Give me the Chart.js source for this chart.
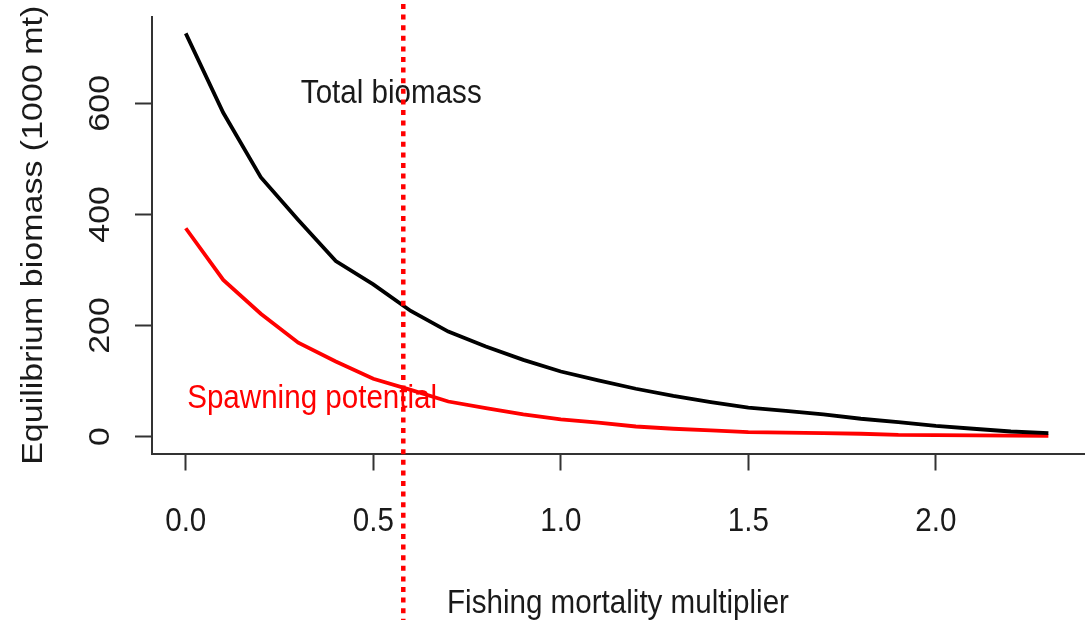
<!DOCTYPE html>
<html>
<head>
<meta charset="utf-8">
<script src="https://cdn.jsdelivr.net/npm/chart.js@4/dist/chart.umd.min.js"></script>
<style>
  html, body { margin: 0; padding: 0; background: #fff; }
  #wrap { width: 1090px; height: 620px; }
</style>
</head>
<body>
<div id="wrap"><canvas id="chart" width="1090" height="620"></canvas></div>
<script>
// fishing mortality multiplier
const fMult = [0.0, 0.1, 0.2, 0.3, 0.4, 0.5, 0.6, 0.7, 0.8, 0.9, 1.0, 1.1,
               1.2, 1.3, 1.4, 1.5, 1.6, 1.7, 1.8, 1.9, 2.0, 2.1, 2.2, 2.3];
// equilibrium biomass (1000 mt)
const totalBiomass = [726, 583, 467, 390, 316, 274, 226, 189, 162, 138, 117, 101,
                      86, 73, 62, 52, 46, 40, 32, 26, 19, 14, 9, 6];
const spawningPotential = [375, 282, 221, 169, 135, 104, 84, 63, 51, 40, 31, 25,
                           18, 14, 11, 8, 7, 6, 5, 3, 2.5, 2, 1.5, 1];
const xTicks = [0, 0.5, 1, 1.5, 2];
const xTickLabels = ['0.0', '0.5', '1.0', '1.5', '2.0'];
const yTicks = [0, 200, 400, 600];
const yTickLabels = ['0', '200', '400', '600'];
const refF = 0.58;

const FONT = '34px "Liberation Sans", Arial, sans-serif';
const SQX = 0.87; // text in the picture is narrow

function pts(ys) {
    return fMult.map((x, i) => ({ x: x, y: ys[i] }));
}

// draws labels, axis titles and the dotted reference line
const rPlot = {
    id: 'rPlot',
    afterDraw(chart) {
        const ctx = chart.ctx;
        const xs = chart.scales.x, ys = chart.scales.y;
        const area = chart.chartArea;

        function hText(s, x, y, color) {
            ctx.save();
            ctx.translate(x, y);
            ctx.scale(SQX, 1);
            ctx.fillStyle = color;
            ctx.font = FONT;
            ctx.textAlign = 'center';
            ctx.textBaseline = 'alphabetic';
            ctx.fillText(s, 0, 0);
            ctx.restore();
        }
        function vText(s, x, y, color) {
            ctx.save();
            ctx.translate(x, y);
            ctx.scale(SQX, 1);
            ctx.rotate(-Math.PI / 2);
            ctx.fillStyle = color;
            ctx.font = FONT;
            ctx.textAlign = 'center';
            ctx.textBaseline = 'alphabetic';
            ctx.fillText(s, 0, 0);
            ctx.restore();
        }

        xTicks.forEach((v, i) => hText(xTickLabels[i], xs.getPixelForValue(v), 530.5, '#1a1a1a'));
        yTicks.forEach((v, i) => vText(yTickLabels[i], 108.5, ys.getPixelForValue(v), '#1a1a1a'));

        hText('Fishing mortality multiplier', (area.left + area.right) / 2, 613, '#1a1a1a');
        vText('Equilibrium biomass (1000 mt)', 41.5, (area.top + area.bottom) / 2, '#1a1a1a');

        hText('Total biomass', xs.getPixelForValue(0.548), ys.getPixelForValue(601), '#1a1a1a');
        hText('Spawning potential', xs.getPixelForValue(0.337), ys.getPixelForValue(51), '#ff0000');

        // vertical dotted line, runs over the whole figure
        const px = xs.getPixelForValue(refF);
        ctx.save();
        ctx.strokeStyle = '#ff0000';
        ctx.lineWidth = 4.5;
        ctx.setLineDash([5, 5.6]);
        ctx.lineDashOffset = 6.6;
        ctx.beginPath();
        ctx.moveTo(px, 0);
        ctx.lineTo(px, chart.height);
        ctx.stroke();
        ctx.restore();
    }
};

const axisStyle = {
    display: true,
    drawOnChartArea: false,
    drawTicks: true,
    tickLength: 17,
    tickWidth: 2,
    tickColor: '#333'
};

new Chart(document.getElementById('chart'), {
    type: 'line',
    data: {
        datasets: [{
            label: 'Total biomass',
            data: pts(totalBiomass),
            borderColor: '#000',
            borderWidth: 3.8,
            pointRadius: 0,
            tension: 0
        }, {
            label: 'Spawning potential',
            data: pts(spawningPotential),
            borderColor: '#ff0000',
            borderWidth: 3.8,
            pointRadius: 0,
            tension: 0
        }]
    },
    options: {
        responsive: false,
        animation: false,
        devicePixelRatio: 1,
        layout: { padding: { left: 135, right: 6, top: 17, bottom: 149.5 } },
        plugins: { legend: { display: false }, tooltip: { enabled: false } },
        scales: {
            x: {
                type: 'linear',
                min: -0.09,
                max: 2.395,
                afterBuildTicks: s => { s.ticks = xTicks.map(v => ({ value: v })); },
                ticks: { display: false },
                grid: axisStyle,
                border: { display: true, color: '#333', width: 2 }
            },
            y: {
                type: 'linear',
                min: -30.6,
                max: 755.4,
                afterBuildTicks: s => { s.ticks = yTicks.map(v => ({ value: v })); },
                ticks: { display: false },
                grid: axisStyle,
                border: { display: true, color: '#333', width: 2 }
            }
        }
    },
    plugins: [rPlot]
});
</script>
</body>
</html>
